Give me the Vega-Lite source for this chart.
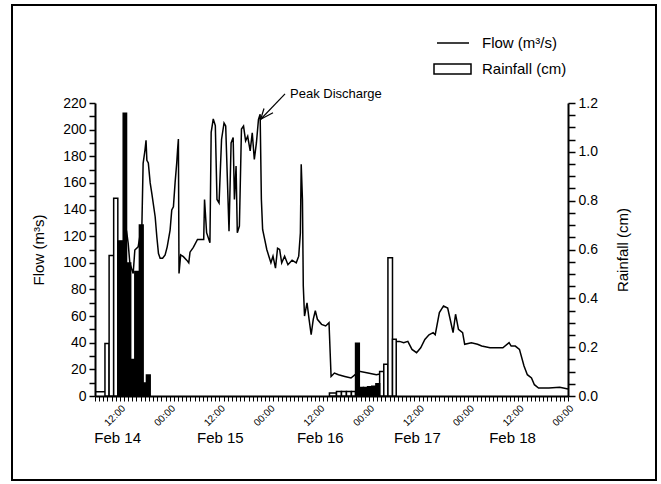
{
  "$schema": "https://vega.github.io/schema/vega-lite/v6.json",
  "width": 644,
  "height": 475,
  "autosize": "none",
  "padding": {"left": 12, "top": 5, "right": 5, "bottom": 4},
  "background": "white",
  "config": {
    "view": {"stroke": "black", "strokeWidth": 2},
    "font": "Liberation Sans",
    "axis": {"labelFont": "Liberation Sans", "titleFont": "Liberation Sans", "labelColor": "black", "titleColor": "black", "tickColor": "black", "domainColor": "black", "grid": false, "titleFontWeight": "normal"},
    "legend": {"labelFont": "Liberation Sans", "labelColor": "black", "padding": 0}
  },
  "datasets": {
    "flowdata": [
      {"t": "2000-02-14T06:00Z", "flow": 3.2}, {"t": "2000-02-14T08:00Z", "flow": 3.2}, {"t": "2000-02-14T09:24Z", "flow": 3.5},
      {"t": "2000-02-14T10:12Z", "flow": 5}, {"t": "2000-02-14T10:48Z", "flow": 7}, {"t": "2000-02-14T11:24Z", "flow": 17},
      {"t": "2000-02-14T11:54Z", "flow": 27}, {"t": "2000-02-14T12:06Z", "flow": 116}, {"t": "2000-02-14T13:00Z", "flow": 116},
      {"t": "2000-02-14T13:18Z", "flow": 126}, {"t": "2000-02-14T13:36Z", "flow": 124}, {"t": "2000-02-14T14:00Z", "flow": 114.6},
      {"t": "2000-02-14T14:24Z", "flow": 99.6}, {"t": "2000-02-14T15:12Z", "flow": 92}, {"t": "2000-02-14T15:36Z", "flow": 109.6},
      {"t": "2000-02-14T16:24Z", "flow": 112}, {"t": "2000-02-14T16:48Z", "flow": 119.6}, {"t": "2000-02-14T17:18Z", "flow": 128},
      {"t": "2000-02-14T17:36Z", "flow": 174.7}, {"t": "2000-02-14T18:03Z", "flow": 184.7}, {"t": "2000-02-14T18:18Z", "flow": 192},
      {"t": "2000-02-14T18:30Z", "flow": 177}, {"t": "2000-02-14T18:51Z", "flow": 175}, {"t": "2000-02-14T19:18Z", "flow": 160},
      {"t": "2000-02-14T19:42Z", "flow": 152}, {"t": "2000-02-14T20:30Z", "flow": 134.6}, {"t": "2000-02-14T20:54Z", "flow": 119.6},
      {"t": "2000-02-14T21:18Z", "flow": 107}, {"t": "2000-02-14T21:42Z", "flow": 103.4}, {"t": "2000-02-14T22:18Z", "flow": 103.4},
      {"t": "2000-02-14T22:54Z", "flow": 105.9}, {"t": "2000-02-14T23:24Z", "flow": 112}, {"t": "2000-02-15T00:06Z", "flow": 124.6},
      {"t": "2000-02-15T00:30Z", "flow": 139.7}, {"t": "2000-02-15T00:54Z", "flow": 142}, {"t": "2000-02-15T01:18Z", "flow": 160},
      {"t": "2000-02-15T01:42Z", "flow": 175}, {"t": "2000-02-15T01:54Z", "flow": 184.7}, {"t": "2000-02-15T02:06Z", "flow": 193},
      {"t": "2000-02-15T02:15Z", "flow": 92}, {"t": "2000-02-15T02:39Z", "flow": 106}, {"t": "2000-02-15T03:18Z", "flow": 104.6},
      {"t": "2000-02-15T04:06Z", "flow": 102}, {"t": "2000-02-15T04:36Z", "flow": 100}, {"t": "2000-02-15T04:54Z", "flow": 108},
      {"t": "2000-02-15T05:42Z", "flow": 111.6}, {"t": "2000-02-15T06:42Z", "flow": 117.6}, {"t": "2000-02-15T08:12Z", "flow": 117.6},
      {"t": "2000-02-15T08:24Z", "flow": 147.6}, {"t": "2000-02-15T08:54Z", "flow": 122.6}, {"t": "2000-02-15T09:42Z", "flow": 115},
      {"t": "2000-02-15T10:00Z", "flow": 198}, {"t": "2000-02-15T10:30Z", "flow": 208}, {"t": "2000-02-15T11:00Z", "flow": 203},
      {"t": "2000-02-15T11:24Z", "flow": 147.6}, {"t": "2000-02-15T11:54Z", "flow": 145}, {"t": "2000-02-15T12:30Z", "flow": 192.6},
      {"t": "2000-02-15T13:06Z", "flow": 205}, {"t": "2000-02-15T13:30Z", "flow": 202.7}, {"t": "2000-02-15T14:18Z", "flow": 123.7},
      {"t": "2000-02-15T14:48Z", "flow": 190}, {"t": "2000-02-15T15:18Z", "flow": 194}, {"t": "2000-02-15T15:36Z", "flow": 147.6},
      {"t": "2000-02-15T16:00Z", "flow": 172.6}, {"t": "2000-02-15T16:18Z", "flow": 122.6}, {"t": "2000-02-15T16:48Z", "flow": 127.6},
      {"t": "2000-02-15T17:18Z", "flow": 200.5}, {"t": "2000-02-15T17:48Z", "flow": 202.7}, {"t": "2000-02-15T18:18Z", "flow": 191.6},
      {"t": "2000-02-15T18:48Z", "flow": 195}, {"t": "2000-02-15T19:24Z", "flow": 184}, {"t": "2000-02-15T19:54Z", "flow": 197.6},
      {"t": "2000-02-15T20:24Z", "flow": 177.6}, {"t": "2000-02-15T20:54Z", "flow": 190}, {"t": "2000-02-15T21:24Z", "flow": 207.7},
      {"t": "2000-02-15T21:48Z", "flow": 211.5}, {"t": "2000-02-15T22:06Z", "flow": 147.6}, {"t": "2000-02-15T22:24Z", "flow": 125},
      {"t": "2000-02-15T22:54Z", "flow": 117.6}, {"t": "2000-02-15T23:24Z", "flow": 110}, {"t": "2000-02-15T23:54Z", "flow": 105},
      {"t": "2000-02-16T00:24Z", "flow": 100}, {"t": "2000-02-16T00:54Z", "flow": 105}, {"t": "2000-02-16T01:30Z", "flow": 96},
      {"t": "2000-02-16T02:00Z", "flow": 111}, {"t": "2000-02-16T02:30Z", "flow": 110}, {"t": "2000-02-16T03:00Z", "flow": 100},
      {"t": "2000-02-16T03:42Z", "flow": 105}, {"t": "2000-02-16T04:30Z", "flow": 98.6}, {"t": "2000-02-16T05:30Z", "flow": 102},
      {"t": "2000-02-16T06:30Z", "flow": 100}, {"t": "2000-02-16T07:06Z", "flow": 105}, {"t": "2000-02-16T07:30Z", "flow": 122.6},
      {"t": "2000-02-16T07:42Z", "flow": 174}, {"t": "2000-02-16T08:00Z", "flow": 147.6}, {"t": "2000-02-16T08:12Z", "flow": 82.6},
      {"t": "2000-02-16T08:30Z", "flow": 60}, {"t": "2000-02-16T09:06Z", "flow": 70}, {"t": "2000-02-16T09:36Z", "flow": 57.6},
      {"t": "2000-02-16T10:06Z", "flow": 46}, {"t": "2000-02-16T10:36Z", "flow": 57.6}, {"t": "2000-02-16T11:06Z", "flow": 64},
      {"t": "2000-02-16T11:36Z", "flow": 57.6}, {"t": "2000-02-16T12:36Z", "flow": 53.8}, {"t": "2000-02-16T13:36Z", "flow": 52.6},
      {"t": "2000-02-16T14:24Z", "flow": 55}, {"t": "2000-02-16T14:54Z", "flow": 14.7}, {"t": "2000-02-16T15:42Z", "flow": 17.2},
      {"t": "2000-02-16T16:42Z", "flow": 16}, {"t": "2000-02-16T18:12Z", "flow": 14.7}, {"t": "2000-02-16T19:42Z", "flow": 13.5},
      {"t": "2000-02-16T20:42Z", "flow": 16}, {"t": "2000-02-16T21:42Z", "flow": 18.5}, {"t": "2000-02-16T23:48Z", "flow": 17.2},
      {"t": "2000-02-17T01:48Z", "flow": 16}, {"t": "2000-02-17T03:48Z", "flow": 17.2}, {"t": "2000-02-17T04:24Z", "flow": 21},
      {"t": "2000-02-17T04:54Z", "flow": 24.8}, {"t": "2000-02-17T05:24Z", "flow": 31}, {"t": "2000-02-17T05:54Z", "flow": 42},
      {"t": "2000-02-17T06:24Z", "flow": 41}, {"t": "2000-02-17T07:24Z", "flow": 41}, {"t": "2000-02-17T08:24Z", "flow": 40},
      {"t": "2000-02-17T09:24Z", "flow": 41}, {"t": "2000-02-17T10:24Z", "flow": 35}, {"t": "2000-02-17T11:30Z", "flow": 32.5},
      {"t": "2000-02-17T12:30Z", "flow": 36.2}, {"t": "2000-02-17T13:30Z", "flow": 42.5}, {"t": "2000-02-17T14:30Z", "flow": 46},
      {"t": "2000-02-17T15:30Z", "flow": 47.6}, {"t": "2000-02-17T16:00Z", "flow": 46}, {"t": "2000-02-17T17:00Z", "flow": 62.6},
      {"t": "2000-02-17T18:00Z", "flow": 67.6}, {"t": "2000-02-17T19:00Z", "flow": 66}, {"t": "2000-02-17T19:36Z", "flow": 57.6},
      {"t": "2000-02-17T20:18Z", "flow": 47.6}, {"t": "2000-02-17T20:54Z", "flow": 61.4}, {"t": "2000-02-17T21:36Z", "flow": 50},
      {"t": "2000-02-17T22:36Z", "flow": 47.6}, {"t": "2000-02-17T23:06Z", "flow": 38.8}, {"t": "2000-02-18T00:42Z", "flow": 40},
      {"t": "2000-02-18T02:12Z", "flow": 38.8}, {"t": "2000-02-18T03:12Z", "flow": 37.5}, {"t": "2000-02-18T05:12Z", "flow": 36.2},
      {"t": "2000-02-18T08:18Z", "flow": 36.2}, {"t": "2000-02-18T09:48Z", "flow": 40}, {"t": "2000-02-18T10:18Z", "flow": 37.5},
      {"t": "2000-02-18T11:18Z", "flow": 37.5}, {"t": "2000-02-18T12:18Z", "flow": 35}, {"t": "2000-02-18T13:24Z", "flow": 22.5},
      {"t": "2000-02-18T14:12Z", "flow": 16}, {"t": "2000-02-18T15:12Z", "flow": 13.5}, {"t": "2000-02-18T15:54Z", "flow": 8.5},
      {"t": "2000-02-18T16:54Z", "flow": 6}, {"t": "2000-02-18T19:24Z", "flow": 6}, {"t": "2000-02-18T22:00Z", "flow": 6.5},
      {"t": "2000-02-19T00:00Z", "flow": 5.2}
    ],
    "arrowdata": [
      {"t": "2000-02-15T21:56Z", "flow": 207.8, "t2": "2000-02-16T03:48Z", "flow2": 226.8},
      {"t": "2000-02-15T21:56Z", "flow": 207.8, "t2": "2000-02-16T00:54Z", "flow2": 212.7},
      {"t": "2000-02-15T21:56Z", "flow": 207.8, "t2": "2000-02-15T22:44Z", "flow2": 215.9}
    ],
    "notedata": [{"t": "2000-02-16T05:00Z", "flow": 226.8, "label": "Peak Discharge"}],
    "rainWhite": [
      {"t": "2000-02-14T08:24Z", "t2": "2000-02-14T09:24Z", "rain": 0.215},
      {"t": "2000-02-14T09:24Z", "t2": "2000-02-14T10:30Z", "rain": 0.575},
      {"t": "2000-02-14T10:30Z", "t2": "2000-02-14T11:30Z", "rain": 0.81},
      {"t": "2000-02-16T14:30Z", "t2": "2000-02-16T16:12Z", "rain": 0.012},
      {"t": "2000-02-16T16:12Z", "t2": "2000-02-16T17:24Z", "rain": 0.018},
      {"t": "2000-02-16T17:24Z", "t2": "2000-02-16T18:36Z", "rain": 0.018},
      {"t": "2000-02-16T18:36Z", "t2": "2000-02-16T19:48Z", "rain": 0.018},
      {"t": "2000-02-16T19:48Z", "t2": "2000-02-16T20:48Z", "rain": 0.018},
      {"t": "2000-02-17T02:36Z", "t2": "2000-02-17T03:36Z", "rain": 0.1},
      {"t": "2000-02-17T03:36Z", "t2": "2000-02-17T04:36Z", "rain": 0.13},
      {"t": "2000-02-17T04:36Z", "t2": "2000-02-17T05:42Z", "rain": 0.566},
      {"t": "2000-02-17T05:42Z", "t2": "2000-02-17T06:36Z", "rain": 0.232}
    ],
    "rainBlack": [
      {"t": "2000-02-14T11:30Z", "t2": "2000-02-14T12:48Z", "rain": 0.635},
      {"t": "2000-02-14T12:48Z", "t2": "2000-02-14T13:36Z", "rain": 1.158},
      {"t": "2000-02-14T13:36Z", "t2": "2000-02-14T14:36Z", "rain": 0.545},
      {"t": "2000-02-14T14:36Z", "t2": "2000-02-14T15:36Z", "rain": 0.15},
      {"t": "2000-02-14T15:36Z", "t2": "2000-02-14T16:42Z", "rain": 0.51},
      {"t": "2000-02-14T16:42Z", "t2": "2000-02-14T17:36Z", "rain": 0.7},
      {"t": "2000-02-14T17:36Z", "t2": "2000-02-14T18:24Z", "rain": 0.053},
      {"t": "2000-02-14T18:24Z", "t2": "2000-02-14T19:18Z", "rain": 0.086},
      {"t": "2000-02-16T20:48Z", "t2": "2000-02-16T21:42Z", "rain": 0.216},
      {"t": "2000-02-16T21:42Z", "t2": "2000-02-16T22:42Z", "rain": 0.035},
      {"t": "2000-02-16T22:42Z", "t2": "2000-02-16T23:42Z", "rain": 0.035},
      {"t": "2000-02-16T23:42Z", "t2": "2000-02-17T00:42Z", "rain": 0.038},
      {"t": "2000-02-17T00:42Z", "t2": "2000-02-17T01:42Z", "rain": 0.04},
      {"t": "2000-02-17T01:42Z", "t2": "2000-02-17T02:36Z", "rain": 0.05}
    ]
  },
  "layer": [
    {
      "encoding": {
        "x": {
          "field": "t", "type": "temporal",
          "scale": {"type": "utc", "domain": [950508000000, 950918400000], "range": [83, 556], "nice": false},
          "axis": {
            "orient": "bottom", "offset": -84, "title": null,
            "values": [950508000000, 950511600000, 950515200000, 950518800000, 950522400000, 950526000000, 950529600000, 950533200000, 950536800000, 950540400000, 950544000000, 950547600000, 950551200000, 950554800000, 950558400000, 950562000000, 950565600000, 950569200000,
              950572800000, 950576400000, 950580000000, 950583600000, 950587200000, 950590800000, 950594400000, 950598000000, 950601600000, 950605200000, 950608800000, 950612400000, 950616000000, 950619600000, 950623200000, 950626800000, 950630400000, 950634000000, 950637600000, 950641200000, 950644800000, 950648400000, 950652000000, 950655600000,
              950659200000, 950662800000, 950666400000, 950670000000, 950673600000, 950677200000, 950680800000, 950684400000, 950688000000, 950691600000, 950695200000, 950698800000, 950702400000, 950706000000, 950709600000, 950713200000, 950716800000, 950720400000, 950724000000, 950727600000, 950731200000, 950734800000, 950738400000, 950742000000,
              950745600000, 950749200000, 950752800000, 950756400000, 950760000000, 950763600000, 950767200000, 950770800000, 950774400000, 950778000000, 950781600000, 950785200000, 950788800000, 950792400000, 950796000000, 950799600000, 950803200000, 950806800000, 950810400000, 950814000000, 950817600000, 950821200000, 950824800000, 950828400000,
              950832000000, 950835600000, 950839200000, 950842800000, 950846400000, 950850000000, 950853600000, 950857200000, 950860800000, 950864400000, 950868000000, 950871600000, 950875200000, 950878800000, 950882400000, 950886000000, 950889600000, 950893200000, 950896800000, 950900400000, 950904000000, 950907600000, 950911200000, 950914800000,
              950918400000],
            "labelExpr": "utchours(datum.value) % 12 === 0 ? utcFormat(datum.value, '%H:%M') : ''",
            "labelOverlap": false,
            "labelAngle": -45, "labelFontSize": 10,
            "labelPadding": 2, "tickSize": 5, "tickWidth": 1, "domainWidth": 2
          }
        },
        "y": {
          "field": "flow", "type": "quantitative",
          "scale": {"domain": [0, 220], "range": [391, 98], "nice": false, "zero": false},
          "axis": {
            "orient": "left", "offset": -83, "title": "Flow  (m³s)", "titleFontSize": 15, "titlePadding": 16,
            "values": [0, 10, 20, 30, 40, 50, 60, 70, 80, 90, 100, 110, 120, 130, 140, 150, 160, 170, 180, 190, 200, 210, 220],
            "labelExpr": "datum.value % 20 === 0 ? datum.label : ''",
            "tickSize": 6,
            "labelFontSize": 14, "labelPadding": 3, "tickWidth": 1.5, "domainWidth": 2
          }
        }
      },
      "layer": [
        {
          "data": {"name": "flowdata"},
          "mark": {"type": "line", "strokeWidth": 1.5},
          "encoding": {
            "stroke": {
              "datum": "Flow (m³/s)", "type": "nominal",
              "scale": {"range": ["black"]},
              "legend": {"orient": "none", "legendX": 424, "legendY": 21, "title": null, "symbolType": "stroke", "symbolSize": 1024, "symbolStrokeWidth": 1.5, "labelFontSize": 15, "labelOffset": 12}
            }
          }
        },
        {
          "data": {"name": "arrowdata"},
          "mark": {"type": "rule", "color": "black", "strokeWidth": 1.2},
          "encoding": {"x2": {"field": "t2"}, "y2": {"field": "flow2"}}
        },
        {
          "data": {"name": "notedata"},
          "mark": {"type": "text", "align": "left", "baseline": "middle", "fontSize": 13, "color": "black"},
          "encoding": {"text": {"field": "label"}}
        }
      ]
    },
    {
      "encoding": {
        "x": {
          "field": "t", "type": "temporal",
          "scale": {"type": "utc", "domain": [950508000000, 950918400000], "range": [83, 556], "nice": false},
          "axis": {
            "orient": "bottom", "offset": -84, "title": null,
            "values": [950527200000, 950616300000, 950703000000, 950787300000, 950869800000],
            "format": "%b %d",
            "ticks": false, "domain": false, "labelPadding": 34, "labelFontSize": 15, "labelAngle": 0
          }
        },
        "x2": {"field": "t2"},
        "y": {
          "field": "rain", "type": "quantitative",
          "scale": {"domain": [0, 1.2], "range": [391, 98], "nice": false, "zero": false},
          "axis": {
            "orient": "right", "offset": -88, "title": "Rainfall (cm)", "titleFontSize": 15, "titlePadding": 18,
            "titleAngle": 270, "titleBaseline": "top",
            "values": [0, 0.05, 0.1, 0.15, 0.2, 0.25, 0.3, 0.35, 0.4, 0.45, 0.5, 0.55, 0.6, 0.65, 0.7, 0.75, 0.8, 0.85, 0.9, 0.95, 1.0, 1.05, 1.1, 1.15, 1.2],
            "labelExpr": "round(datum.value * 100) % 20 === 0 ? format(datum.value, '.1f') : ''",
            "tickSize": 7,
            "labelFontSize": 14, "labelPadding": 3, "tickWidth": 1.5, "domainWidth": 2
          }
        },
        "y2": {"datum": 0}
      },
      "layer": [
        {
          "data": {"name": "rainWhite"},
          "mark": {"type": "rect", "stroke": "black", "strokeWidth": 1.5},
          "encoding": {
            "fill": {
              "datum": "Rainfall (cm)", "type": "nominal",
              "scale": {"range": ["white"]},
              "legend": {"orient": "none", "legendX": 421, "legendY": 44.5, "title": null, "symbolType": "M-1,-0.27H1V0.27H-1Z", "symbolSize": 1369, "symbolStrokeColor": "black", "symbolStrokeWidth": 1.5, "labelFontSize": 15, "labelOffset": 10}
            }
          }
        },
        {
          "data": {"name": "rainBlack"},
          "mark": {"type": "rect", "stroke": "black", "strokeWidth": 1.5, "fill": "black"},
          "encoding": {}
        }
      ]
    }
  ],
  "resolve": {"scale": {"y": "independent"}, "axis": {"x": "independent", "y": "independent"}}
}
